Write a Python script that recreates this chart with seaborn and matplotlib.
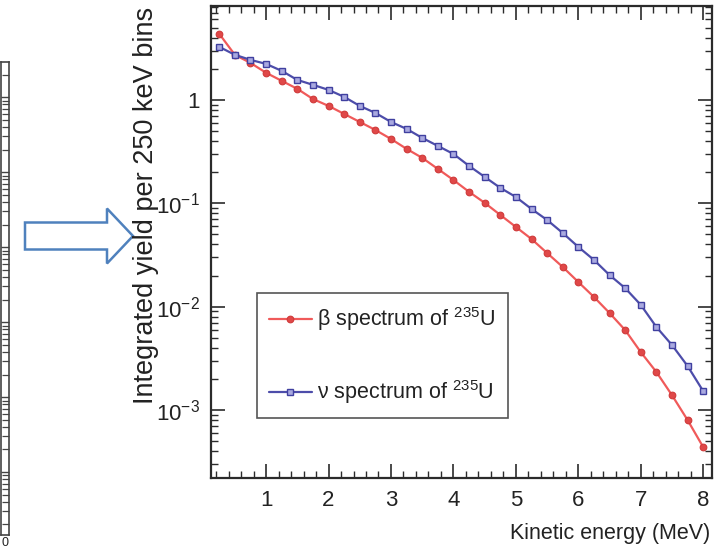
import matplotlib
matplotlib.use("Agg")
import matplotlib.pyplot as plt
import matplotlib.patches as mpatches
from matplotlib.ticker import MultipleLocator, FixedLocator, FixedFormatter, LogLocator, NullFormatter
import pandas as pd
import seaborn as sns

# Kinetic energy bin centres (MeV), 250 keV bins
energy_mev = [0.25, 0.5, 0.75, 1.0, 1.25, 1.5, 1.75, 2.0, 2.25, 2.5, 2.75, 3.0,
              3.25, 3.5, 3.75, 4.0, 4.25, 4.5, 4.75, 5.0, 5.25, 5.5, 5.75, 6.0,
              6.25, 6.5, 6.75, 7.0, 7.25, 7.5, 7.75, 8.0]

# Integrated yield per bin, beta spectrum of U-235
beta_yield = [4.36, 2.73, 2.28, 1.83, 1.53, 1.28, 1.02, 0.875, 0.732, 0.612, 0.512, 0.419,
              0.336, 0.275, 0.215, 0.168, 0.129, 0.101, 0.0771, 0.059, 0.0451, 0.033, 0.0242, 0.0173,
              0.0124, 0.00867, 0.00593, 0.00363, 0.00233, 0.00139, 0.000798, 0.000437]

# Integrated yield per bin, antineutrino spectrum of U-235
nu_yield = [3.26, 2.73, 2.44, 2.23, 1.91, 1.56, 1.40, 1.25, 1.07, 0.875, 0.748, 0.612,
            0.524, 0.429, 0.359, 0.300, 0.230, 0.180, 0.141, 0.115, 0.0881, 0.0689, 0.0516, 0.0378,
            0.0283, 0.0202, 0.0151, 0.0104, 0.00635, 0.00425, 0.00266, 0.00152]

series_labels = [r"β spectrum of $^{\mathregular{235}}$U", r"ν spectrum of $^{\mathregular{235}}$U"]
xtick_values = [1, 2, 3, 4, 5, 6, 7, 8]
ytick_values = [1e-3, 1e-2, 1e-1, 1]
ytick_labels = [r"$\mathregular{10^{-3}}$", r"$\mathregular{10^{-2}}$", r"$\mathregular{10^{-1}}$", "1"]

sns.set_theme(style="ticks")
plt.rcParams["font.family"] = ["Liberation Sans", "DejaVu Sans"]
plt.rcParams["axes.unicode_minus"] = True

W, H = 723, 550
fig = plt.figure(figsize=(W / 100, H / 100), dpi=100)
fig.patch.set_facecolor("white")

def px_box(x0, y0, x1, y1):
    return [x0 / W, 1 - y1 / H, (x1 - x0) / W, (y1 - y0) / H]

frame_color = "#2b2b2b"
text_color = "#222222"

# ---- main spectrum panel ----
ax = fig.add_axes(px_box(211, 6, 712, 478))
df = pd.DataFrame({"energy": energy_mev, "beta": beta_yield, "nu": nu_yield})

sns.lineplot(data=df, x="energy", y="beta", ax=ax, color="#f05a5a", lw=1.6,
             marker="o", markersize=4.8, markerfacecolor="#e04848",
             markeredgecolor="#d03a3a", markeredgewidth=0.8, label=series_labels[0])
sns.lineplot(data=df, x="energy", y="nu", ax=ax, color="#4d4daa", lw=1.6,
             marker="s", markersize=4.8, markerfacecolor="#a9a9e0",
             markeredgecolor="#4040a0", markeredgewidth=1.0, label=series_labels[1])

ax.set_yscale("log")
ax.set_xlim(0.118, 8.14)
ax.set_ylim(2.2e-4, 8.1)
ax.set_xlabel("")
ax.set_ylabel("")

ax.xaxis.set_major_locator(FixedLocator(xtick_values))
ax.xaxis.set_minor_locator(MultipleLocator(0.2))
ax.yaxis.set_major_locator(FixedLocator(ytick_values))
ax.yaxis.set_major_formatter(FixedFormatter(ytick_labels))
ax.yaxis.set_minor_locator(LogLocator(base=10, subs=[2, 3, 4, 5, 6, 7, 8, 9], numticks=20))
ax.yaxis.set_minor_formatter(NullFormatter())

ax.tick_params(which="both", direction="in", top=True, right=True, color=frame_color)
ax.tick_params(which="major", length=10, width=1.2)
ax.tick_params(which="minor", length=5, width=1.0)
ax.tick_params(axis="x", which="major", labelsize=16, pad=9, labelcolor=text_color)
ax.tick_params(axis="y", which="major", labelsize=16, pad=8, labelcolor=text_color)
for s in ax.spines.values():
    s.set_linewidth(1.6)
    s.set_color(frame_color)
    s.set_visible(True)

leg = ax.legend(loc="lower left", bbox_to_anchor=(0.092, 0.127), borderaxespad=0,
                frameon=True, fancybox=False, framealpha=1, edgecolor="#555555",
                prop={"size": 15.5}, handlelength=2.0, handletextpad=0.25,
                labelspacing=2.1, borderpad=0.55, numpoints=1)
leg.get_frame().set_linewidth(1.2)
for t in leg.get_texts():
    t.set_color(text_color)

fig.text(146 / W, 1 - 205 / H, "Integrated yield per 250 keV bins", rotation=90,
         ha="center", va="center", fontsize=19.5, color=text_color)
fig.text(710 / W, 1 - 533 / H, "Kinetic energy (MeV)", ha="right", va="center",
         fontsize=15.5, color=text_color)

# ---- edge of the neighbouring panel on the left ----
axl = fig.add_axes(px_box(1, 62, 9, 535))
axl.set_yscale("log")
axl.set_ylim(10 ** -0.84, 10 ** 5.47)
axl.set_xlim(0, 1)
axl.set_xticks([])
axl.yaxis.set_major_locator(LogLocator(base=10, numticks=20))
axl.yaxis.set_minor_locator(LogLocator(base=10, subs=[2, 3, 4, 5, 6, 7, 8, 9], numticks=20))
axl.yaxis.set_major_formatter(NullFormatter())
axl.yaxis.set_minor_formatter(NullFormatter())
axl.tick_params(which="both", direction="in", left=False, right=True, color="#444444")
axl.tick_params(which="major", length=6, width=1.0)
axl.tick_params(which="minor", length=5, width=0.9)
for s in axl.spines.values():
    s.set_linewidth(1.2)
    s.set_color("#444444")
fig.text(1 / W, 1 - 549 / H, "0", ha="left", va="bottom", fontsize=9, color=text_color)

# ---- outlined block arrow pointing at the axis title ----
arrow = mpatches.FancyArrow(0.25, (H - 236) / 100, 1.08, 0, width=0.27,
                            head_width=0.55, head_length=0.26, length_includes_head=True,
                            transform=fig.dpi_scale_trans, facecolor="white",
                            edgecolor="#4f81bd", linewidth=1.8)
fig.add_artist(arrow)

fig.savefig("out.png", dpi=100, facecolor="white")
